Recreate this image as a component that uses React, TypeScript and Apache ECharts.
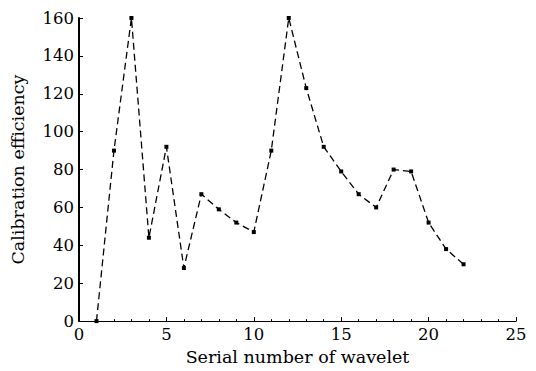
import React, { useEffect, useRef } from "react";
import * as echarts from "echarts";

const serialNumbers = [1, 2, 3, 4, 5, 6, 7, 8, 9, 10, 11, 12, 13, 14, 15, 16, 17, 18, 19, 20, 21, 22];
const efficiency = [0, 90, 160, 44, 92, 28, 67, 59, 52, 47, 90, 160, 123, 92, 79, 67, 60, 80, 79, 52, 38, 30];

const xTitle = "Serial number of wavelet";
const yTitle = "Calibration efficiency";

export default function App() {
  const ref = useRef<HTMLDivElement>(null);
  useEffect(() => {
    if (!ref.current) return;
    const chart = echarts.init(ref.current, null, { renderer: "svg" });
    const font = "DejaVu Serif";
    chart.setOption({
      animation: false,
      backgroundColor: "#fff",
      grid: { left: 79, right: 20, top: 18, bottom: 48 },
      xAxis: {
        type: "value",
        min: 0,
        max: 25,
        interval: 5,
        name: xTitle,
        nameLocation: "middle",
        nameGap: 24,
        nameTextStyle: { fontFamily: font, fontSize: 17.5, color: "#000" },
        axisLine: { show: true, lineStyle: { color: "#000", width: 1.2 } },
        axisTick: { show: true, inside: true, length: 4, lineStyle: { color: "#000" } },
        minorTick: { show: true, splitNumber: 5, length: 2, lineStyle: { color: "#000" } },
        axisLabel: { fontFamily: font, fontSize: 16.5, color: "#000", margin: 5 },
        splitLine: { show: false },
      },
      yAxis: {
        type: "value",
        min: 0,
        max: 160,
        interval: 20,
        name: yTitle,
        nameLocation: "middle",
        nameGap: 52,
        nameTextStyle: { fontFamily: font, fontSize: 17.5, color: "#000" },
        axisLine: { show: true, lineStyle: { color: "#000", width: 2 } },
        axisTick: { show: true, inside: true, length: 4, lineStyle: { color: "#000" } },
        axisLabel: { fontFamily: font, fontSize: 16.5, color: "#000", margin: 5 },
        splitLine: { show: false },
      },
      series: [
        {
          type: "line",
          data: serialNumbers.map((x, i) => [x, efficiency[i]]),
          lineStyle: { color: "#000", width: 1.3, type: [7, 4] },
          symbol: "rect",
          symbolSize: 4,
          itemStyle: { color: "#000" },
        },
      ],
    });
    return () => chart.dispose();
  }, []);
  return <div ref={ref} style={{ width: 536, height: 371, position: "absolute", left: 0, top: 0 }} />;
}
